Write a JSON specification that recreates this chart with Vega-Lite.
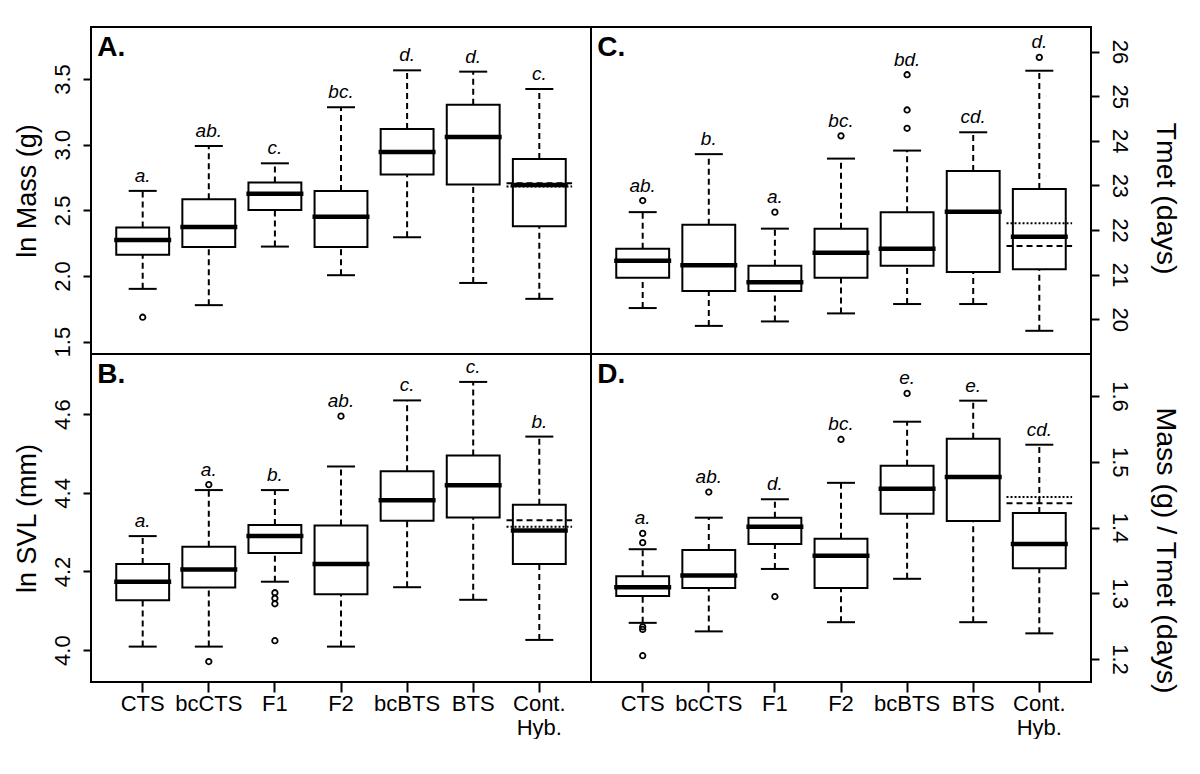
{
  "$schema": "https://vega.github.io/schema/vega-lite/v6.json",
  "background": "white",
  "padding": {"left": 11, "top": 26, "right": 12, "bottom": 0},
  "bounds": "flush",
  "columns": 2,
  "spacing": 0,
  "config": {
    "font": "Liberation Sans",
    "view": {"stroke": "black", "strokeWidth": 2},
    "axis": {"domain": false, "grid": false, "tickColor": "black", "tickWidth": 2, "tickSize": 8, "labelColor": "black", "titleColor": "black", "labelFont": "Liberation Sans", "titleFont": "Liberation Sans", "labelFontSize": 22, "titleFontSize": 27, "titleFontWeight": "normal"},
    "concat": {"spacing": 0}
  },
  "datasets": {
    "stats": [
      {"panel": "A", "group": "CTS", "lo": 1.902, "q1": 2.161, "med": 2.275, "q3": 2.369, "hi": 2.648, "top": 2.648, "letter": "a."},
      {"panel": "A", "group": "bcCTS", "lo": 1.778, "q1": 2.221, "med": 2.374, "q3": 2.584, "hi": 2.99, "top": 2.99, "letter": "ab."},
      {"panel": "A", "group": "F1", "lo": 2.224, "q1": 2.503, "med": 2.627, "q3": 2.711, "hi": 2.858, "top": 2.858, "letter": "c."},
      {"panel": "A", "group": "F2", "lo": 2.006, "q1": 2.221, "med": 2.452, "q3": 2.648, "hi": 3.285, "top": 3.285, "letter": "bc."},
      {"panel": "A", "group": "bcBTS", "lo": 2.295, "q1": 2.772, "med": 2.944, "q3": 3.119, "hi": 3.566, "top": 3.566, "letter": "d."},
      {"panel": "A", "group": "BTS", "lo": 1.947, "q1": 2.696, "med": 3.059, "q3": 3.304, "hi": 3.556, "top": 3.556, "letter": "d."},
      {"panel": "A", "group": "Cont. Hyb.", "lo": 1.826, "q1": 2.379, "med": 2.693, "q3": 2.891, "hi": 3.424, "top": 3.424, "letter": "c."},
      {"panel": "B", "group": "CTS", "lo": 4.009, "q1": 4.127, "med": 4.174, "q3": 4.219, "hi": 4.29, "top": 4.29, "letter": "a."},
      {"panel": "B", "group": "bcCTS", "lo": 4.009, "q1": 4.159, "med": 4.205, "q3": 4.263, "hi": 4.407, "top": 4.421, "letter": "a."},
      {"panel": "B", "group": "F1", "lo": 4.174, "q1": 4.247, "med": 4.29, "q3": 4.318, "hi": 4.407, "top": 4.407, "letter": "b."},
      {"panel": "B", "group": "F2", "lo": 4.009, "q1": 4.142, "med": 4.219, "q3": 4.317, "hi": 4.467, "top": 4.595, "letter": "ab."},
      {"panel": "B", "group": "bcBTS", "lo": 4.16, "q1": 4.329, "med": 4.381, "q3": 4.455, "hi": 4.635, "top": 4.635, "letter": "c."},
      {"panel": "B", "group": "BTS", "lo": 4.128, "q1": 4.337, "med": 4.419, "q3": 4.495, "hi": 4.682, "top": 4.682, "letter": "c."},
      {"panel": "B", "group": "Cont. Hyb.", "lo": 4.026, "q1": 4.219, "med": 4.304, "q3": 4.37, "hi": 4.543, "top": 4.543, "letter": "b."},
      {"panel": "C", "group": "CTS", "lo": 20.25, "q1": 20.93, "med": 21.31, "q3": 21.58, "hi": 22.4, "top": 22.66, "letter": "ab."},
      {"panel": "C", "group": "bcCTS", "lo": 19.85, "q1": 20.63, "med": 21.21, "q3": 22.12, "hi": 23.7, "top": 23.7, "letter": "b."},
      {"panel": "C", "group": "F1", "lo": 19.95, "q1": 20.63, "med": 20.83, "q3": 21.2, "hi": 22.03, "top": 22.4, "letter": "a."},
      {"panel": "C", "group": "F2", "lo": 20.13, "q1": 20.93, "med": 21.49, "q3": 22.03, "hi": 23.6, "top": 24.11, "letter": "bc."},
      {"panel": "C", "group": "bcBTS", "lo": 20.34, "q1": 21.2, "med": 21.58, "q3": 22.4, "hi": 23.78, "top": 25.48, "letter": "bd."},
      {"panel": "C", "group": "BTS", "lo": 20.34, "q1": 21.06, "med": 22.41, "q3": 23.32, "hi": 24.19, "top": 24.19, "letter": "cd."},
      {"panel": "C", "group": "Cont. Hyb.", "lo": 19.74, "q1": 21.12, "med": 21.85, "q3": 22.92, "hi": 25.57, "top": 25.87, "letter": "d."},
      {"panel": "D", "group": "CTS", "lo": 1.255, "q1": 1.296, "med": 1.309, "q3": 1.326, "hi": 1.367, "top": 1.391, "letter": "a."},
      {"panel": "D", "group": "bcCTS", "lo": 1.242, "q1": 1.308, "med": 1.327, "q3": 1.366, "hi": 1.415, "top": 1.454, "letter": "ab."},
      {"panel": "D", "group": "F1", "lo": 1.337, "q1": 1.375, "med": 1.401, "q3": 1.415, "hi": 1.443, "top": 1.443, "letter": "d."},
      {"panel": "D", "group": "F2", "lo": 1.256, "q1": 1.308, "med": 1.357, "q3": 1.383, "hi": 1.468, "top": 1.534, "letter": "bc."},
      {"panel": "D", "group": "bcBTS", "lo": 1.322, "q1": 1.421, "med": 1.459, "q3": 1.494, "hi": 1.561, "top": 1.604, "letter": "e."},
      {"panel": "D", "group": "BTS", "lo": 1.256, "q1": 1.41, "med": 1.477, "q3": 1.535, "hi": 1.593, "top": 1.593, "letter": "e."},
      {"panel": "D", "group": "Cont. Hyb.", "lo": 1.239, "q1": 1.338, "med": 1.375, "q3": 1.422, "hi": 1.526, "top": 1.526, "letter": "cd."}
    ],
    "outliers": [
      {"panel": "A", "group": "CTS", "value": 1.686},
      {"panel": "B", "group": "bcCTS", "value": 4.421},
      {"panel": "B", "group": "bcCTS", "value": 3.971},
      {"panel": "B", "group": "F1", "value": 4.146},
      {"panel": "B", "group": "F1", "value": 4.132},
      {"panel": "B", "group": "F1", "value": 4.118},
      {"panel": "B", "group": "F1", "value": 4.024},
      {"panel": "B", "group": "F2", "value": 4.595},
      {"panel": "C", "group": "CTS", "value": 22.66},
      {"panel": "C", "group": "F1", "value": 22.4},
      {"panel": "C", "group": "F2", "value": 24.11},
      {"panel": "C", "group": "bcBTS", "value": 25.48},
      {"panel": "C", "group": "bcBTS", "value": 24.69},
      {"panel": "C", "group": "bcBTS", "value": 24.28},
      {"panel": "C", "group": "Cont. Hyb.", "value": 25.87},
      {"panel": "D", "group": "CTS", "value": 1.391},
      {"panel": "D", "group": "CTS", "value": 1.377},
      {"panel": "D", "group": "CTS", "value": 1.249},
      {"panel": "D", "group": "CTS", "value": 1.245},
      {"panel": "D", "group": "CTS", "value": 1.205},
      {"panel": "D", "group": "bcCTS", "value": 1.454},
      {"panel": "D", "group": "F1", "value": 1.295},
      {"panel": "D", "group": "F2", "value": 1.534},
      {"panel": "D", "group": "bcBTS", "value": 1.604}
    ],
    "refs": [
      {"panel": "A", "group": "Cont. Hyb.", "value": 2.706, "kind": "dashed"},
      {"panel": "A", "group": "Cont. Hyb.", "value": 2.682, "kind": "dotted"},
      {"panel": "B", "group": "Cont. Hyb.", "value": 4.33, "kind": "dashed"},
      {"panel": "B", "group": "Cont. Hyb.", "value": 4.314, "kind": "dotted"},
      {"panel": "C", "group": "Cont. Hyb.", "value": 22.15, "kind": "dotted"},
      {"panel": "C", "group": "Cont. Hyb.", "value": 21.64, "kind": "dashed"},
      {"panel": "D", "group": "Cont. Hyb.", "value": 1.4465, "kind": "dotted"},
      {"panel": "D", "group": "Cont. Hyb.", "value": 1.437, "kind": "dashed"}
    ]
  },
  "concat": [
    {
      "width": 500, "height": 327,
      "encoding": {"x": {"field": "group", "type": "nominal", "sort": null, "scale": {"type": "band", "domain": ["CTS", "bcCTS", "F1", "F2", "bcBTS", "BTS", "Cont. Hyb."], "paddingInner": 0.2, "paddingOuter": 0.382}, "axis": null}},
      "layer": [
        {"data": {"name": "stats"}, "transform": [{"filter": "datum.panel == 'A'"}], "mark": {"type": "rule", "strokeDash": [6, 4], "strokeWidth": 2, "color": "black"},
         "encoding": {"y": {"field": "q3", "type": "quantitative", "scale": {"domain": [1.406, 3.896], "nice": false, "zero": false},
           "axis": {"orient": "left", "title": "ln Mass (g)", "values": [1.5, 2, 2.5, 3, 3.5], "format": ".1f", "labelAngle": -90, "labelAlign": "center", "labelBaseline": "bottom", "labelPadding": 9, "titlePadding": 10, "labelFlush": false, "labelOverlap": false}},
           "y2": {"field": "hi"}}},
        {"data": {"name": "stats"}, "transform": [{"filter": "datum.panel == 'A'"}], "mark": {"type": "rule", "strokeDash": [6, 4], "strokeWidth": 2, "color": "black"},
         "encoding": {"y": {"field": "lo", "type": "quantitative"}, "y2": {"field": "q1"}}},
        {"data": {"name": "stats"}, "transform": [{"filter": "datum.panel == 'A'"}], "mark": {"type": "tick", "size": 28, "thickness": 2, "color": "black", "opacity": 1},
         "encoding": {"y": {"field": "hi", "type": "quantitative"}}},
        {"data": {"name": "stats"}, "transform": [{"filter": "datum.panel == 'A'"}], "mark": {"type": "tick", "size": 28, "thickness": 2, "color": "black", "opacity": 1},
         "encoding": {"y": {"field": "lo", "type": "quantitative"}}},
        {"data": {"name": "stats"}, "transform": [{"filter": "datum.panel == 'A'"}], "mark": {"type": "bar", "fill": "white", "stroke": "black", "strokeWidth": 2, "opacity": 1},
         "encoding": {"y": {"field": "q1", "type": "quantitative"}, "y2": {"field": "q3"}}},
        {"data": {"name": "stats"}, "transform": [{"filter": "datum.panel == 'A'"}], "mark": {"type": "tick", "size": 57, "thickness": 4.5, "color": "black", "opacity": 1},
         "encoding": {"y": {"field": "med", "type": "quantitative"}}},
        {"data": {"name": "refs"}, "transform": [{"filter": "datum.panel == 'A'"}], "mark": {"type": "rule", "strokeWidth": 2, "color": "black"},
         "encoding": {"x": {"field": "group", "type": "nominal", "bandPosition": -0.12, "axis": null}, "x2": {"field": "group", "bandPosition": 1.12},
           "y": {"field": "value", "type": "quantitative"},
           "strokeDash": {"field": "kind", "type": "nominal", "scale": {"domain": ["dashed", "dotted"], "range": [[6, 4], [2, 2]]}, "legend": null}}},
        {"data": {"name": "outliers"}, "transform": [{"filter": "datum.panel == 'A'"}], "mark": {"type": "point", "filled": false, "stroke": "black", "strokeWidth": 1.8, "size": 30, "opacity": 1},
         "encoding": {"y": {"field": "value", "type": "quantitative"}}},
        {"data": {"name": "stats"}, "transform": [{"filter": "datum.panel == 'A'"}], "mark": {"type": "text", "fontStyle": "italic", "fontSize": 19, "baseline": "alphabetic", "dy": -9, "color": "black"},
         "encoding": {"y": {"field": "top", "type": "quantitative"}, "text": {"field": "letter"}}},
        {"data": {"values": [{}]}, "mark": {"type": "text", "text": "A.", "fontSize": 28, "fontWeight": "bold", "align": "left", "baseline": "alphabetic", "color": "black"},
         "encoding": {"x": {"datum": "CTS", "bandPosition": -0.36, "axis": null}, "y": {"datum": 3.675}}}
      ]
    },
    {
      "width": 500, "height": 327,
      "encoding": {"x": {"field": "group", "type": "nominal", "sort": null, "scale": {"type": "band", "domain": ["CTS", "bcCTS", "F1", "F2", "bcBTS", "BTS", "Cont. Hyb."], "paddingInner": 0.2, "paddingOuter": 0.382}, "axis": null}},
      "layer": [
        {"data": {"name": "stats"}, "transform": [{"filter": "datum.panel == 'C'"}], "mark": {"type": "rule", "strokeDash": [6, 4], "strokeWidth": 2, "color": "black"},
         "encoding": {"y": {"field": "q3", "type": "quantitative", "scale": {"domain": [19.22, 26.55], "nice": false, "zero": false},
           "axis": {"orient": "right", "title": "Tmet (days)", "titleFontSize": 28.5, "titleY": 171, "values": [20, 21, 22, 23, 24, 25, 26], "format": "d", "labelAngle": 90, "labelAlign": "center", "labelBaseline": "bottom", "labelPadding": 8, "titlePadding": 20, "labelFlush": false, "labelOverlap": false}},
           "y2": {"field": "hi"}}},
        {"data": {"name": "stats"}, "transform": [{"filter": "datum.panel == 'C'"}], "mark": {"type": "rule", "strokeDash": [6, 4], "strokeWidth": 2, "color": "black"},
         "encoding": {"y": {"field": "lo", "type": "quantitative"}, "y2": {"field": "q1"}}},
        {"data": {"name": "stats"}, "transform": [{"filter": "datum.panel == 'C'"}], "mark": {"type": "tick", "size": 28, "thickness": 2, "color": "black", "opacity": 1},
         "encoding": {"y": {"field": "hi", "type": "quantitative"}}},
        {"data": {"name": "stats"}, "transform": [{"filter": "datum.panel == 'C'"}], "mark": {"type": "tick", "size": 28, "thickness": 2, "color": "black", "opacity": 1},
         "encoding": {"y": {"field": "lo", "type": "quantitative"}}},
        {"data": {"name": "stats"}, "transform": [{"filter": "datum.panel == 'C'"}], "mark": {"type": "bar", "fill": "white", "stroke": "black", "strokeWidth": 2, "opacity": 1},
         "encoding": {"y": {"field": "q1", "type": "quantitative"}, "y2": {"field": "q3"}}},
        {"data": {"name": "stats"}, "transform": [{"filter": "datum.panel == 'C'"}], "mark": {"type": "tick", "size": 57, "thickness": 4.5, "color": "black", "opacity": 1},
         "encoding": {"y": {"field": "med", "type": "quantitative"}}},
        {"data": {"name": "refs"}, "transform": [{"filter": "datum.panel == 'C'"}], "mark": {"type": "rule", "strokeWidth": 2, "color": "black"},
         "encoding": {"x": {"field": "group", "type": "nominal", "bandPosition": -0.12, "axis": null}, "x2": {"field": "group", "bandPosition": 1.12},
           "y": {"field": "value", "type": "quantitative"},
           "strokeDash": {"field": "kind", "type": "nominal", "scale": {"domain": ["dashed", "dotted"], "range": [[6, 4], [2, 2]]}, "legend": null}}},
        {"data": {"name": "outliers"}, "transform": [{"filter": "datum.panel == 'C'"}], "mark": {"type": "point", "filled": false, "stroke": "black", "strokeWidth": 1.8, "size": 30, "opacity": 1},
         "encoding": {"y": {"field": "value", "type": "quantitative"}}},
        {"data": {"name": "stats"}, "transform": [{"filter": "datum.panel == 'C'"}], "mark": {"type": "text", "fontStyle": "italic", "fontSize": 19, "baseline": "alphabetic", "dy": -9, "color": "black"},
         "encoding": {"y": {"field": "top", "type": "quantitative"}, "text": {"field": "letter"}}},
        {"data": {"values": [{}]}, "mark": {"type": "text", "text": "C.", "fontSize": 28, "fontWeight": "bold", "align": "left", "baseline": "alphabetic", "color": "black"},
         "encoding": {"x": {"datum": "CTS", "bandPosition": -0.36, "axis": null}, "y": {"datum": 25.9}}}
      ]
    },
    {
      "width": 500, "height": 328,
      "encoding": {"x": {"field": "group", "type": "nominal", "sort": null, "scale": {"type": "band", "domain": ["CTS", "bcCTS", "F1", "F2", "bcBTS", "BTS", "Cont. Hyb."], "paddingInner": 0.2, "paddingOuter": 0.382},
        "axis": {"orient": "bottom", "title": null, "labelAngle": 0, "labelAlign": "center", "labelBaseline": "top", "tickSize": 10, "labelPadding": 1, "labelLineHeight": 24, "labelExpr": "datum.value == 'Cont. Hyb.' ? ['Cont.', 'Hyb.'] : datum.label"}}},
      "layer": [
        {"data": {"name": "stats"}, "transform": [{"filter": "datum.panel == 'B'"}], "mark": {"type": "rule", "strokeDash": [6, 4], "strokeWidth": 2, "color": "black"},
         "encoding": {"y": {"field": "q3", "type": "quantitative", "scale": {"domain": [3.919, 4.753], "nice": false, "zero": false},
           "axis": {"orient": "left", "title": "ln SVL (mm)", "values": [4.0, 4.2, 4.4, 4.6], "format": ".1f", "labelAngle": -90, "labelAlign": "center", "labelBaseline": "bottom", "labelPadding": 9, "titlePadding": 10, "labelFlush": false, "labelOverlap": false}},
           "y2": {"field": "hi"}}},
        {"data": {"name": "stats"}, "transform": [{"filter": "datum.panel == 'B'"}], "mark": {"type": "rule", "strokeDash": [6, 4], "strokeWidth": 2, "color": "black"},
         "encoding": {"y": {"field": "lo", "type": "quantitative"}, "y2": {"field": "q1"}}},
        {"data": {"name": "stats"}, "transform": [{"filter": "datum.panel == 'B'"}], "mark": {"type": "tick", "size": 28, "thickness": 2, "color": "black", "opacity": 1},
         "encoding": {"y": {"field": "hi", "type": "quantitative"}}},
        {"data": {"name": "stats"}, "transform": [{"filter": "datum.panel == 'B'"}], "mark": {"type": "tick", "size": 28, "thickness": 2, "color": "black", "opacity": 1},
         "encoding": {"y": {"field": "lo", "type": "quantitative"}}},
        {"data": {"name": "stats"}, "transform": [{"filter": "datum.panel == 'B'"}], "mark": {"type": "bar", "fill": "white", "stroke": "black", "strokeWidth": 2, "opacity": 1},
         "encoding": {"y": {"field": "q1", "type": "quantitative"}, "y2": {"field": "q3"}}},
        {"data": {"name": "stats"}, "transform": [{"filter": "datum.panel == 'B'"}], "mark": {"type": "tick", "size": 57, "thickness": 4.5, "color": "black", "opacity": 1},
         "encoding": {"y": {"field": "med", "type": "quantitative"}}},
        {"data": {"name": "refs"}, "transform": [{"filter": "datum.panel == 'B'"}], "mark": {"type": "rule", "strokeWidth": 2, "color": "black"},
         "encoding": {"x": {"field": "group", "type": "nominal", "bandPosition": -0.12}, "x2": {"field": "group", "bandPosition": 1.12},
           "y": {"field": "value", "type": "quantitative"},
           "strokeDash": {"field": "kind", "type": "nominal", "scale": {"domain": ["dashed", "dotted"], "range": [[6, 4], [2, 2]]}, "legend": null}}},
        {"data": {"name": "outliers"}, "transform": [{"filter": "datum.panel == 'B'"}], "mark": {"type": "point", "filled": false, "stroke": "black", "strokeWidth": 1.8, "size": 30, "opacity": 1},
         "encoding": {"y": {"field": "value", "type": "quantitative"}}},
        {"data": {"name": "stats"}, "transform": [{"filter": "datum.panel == 'B'"}], "mark": {"type": "text", "fontStyle": "italic", "fontSize": 19, "baseline": "alphabetic", "dy": -9, "color": "black"},
         "encoding": {"y": {"field": "top", "type": "quantitative"}, "text": {"field": "letter"}}},
        {"data": {"values": [{}]}, "mark": {"type": "text", "text": "B.", "fontSize": 28, "fontWeight": "bold", "align": "left", "baseline": "alphabetic", "color": "black"},
         "encoding": {"x": {"datum": "CTS", "bandPosition": -0.36}, "y": {"datum": 4.679}}}
      ]
    },
    {
      "width": 500, "height": 328,
      "encoding": {"x": {"field": "group", "type": "nominal", "sort": null, "scale": {"type": "band", "domain": ["CTS", "bcCTS", "F1", "F2", "bcBTS", "BTS", "Cont. Hyb."], "paddingInner": 0.2, "paddingOuter": 0.382},
        "axis": {"orient": "bottom", "title": null, "labelAngle": 0, "labelAlign": "center", "labelBaseline": "top", "tickSize": 10, "labelPadding": 1, "labelLineHeight": 24, "labelExpr": "datum.value == 'Cont. Hyb.' ? ['Cont.', 'Hyb.'] : datum.label"}}},
      "layer": [
        {"data": {"name": "stats"}, "transform": [{"filter": "datum.panel == 'D'"}], "mark": {"type": "rule", "strokeDash": [6, 4], "strokeWidth": 2, "color": "black"},
         "encoding": {"y": {"field": "q3", "type": "quantitative", "scale": {"domain": [1.165, 1.664], "nice": false, "zero": false},
           "axis": {"orient": "right", "title": "Mass (g) / Tmet (days)", "titleFontSize": 28.5, "titleY": 196, "values": [1.2, 1.3, 1.4, 1.5, 1.6], "format": ".1f", "labelAngle": 90, "labelAlign": "center", "labelBaseline": "bottom", "labelPadding": 8, "titlePadding": 20, "labelFlush": false, "labelOverlap": false}},
           "y2": {"field": "hi"}}},
        {"data": {"name": "stats"}, "transform": [{"filter": "datum.panel == 'D'"}], "mark": {"type": "rule", "strokeDash": [6, 4], "strokeWidth": 2, "color": "black"},
         "encoding": {"y": {"field": "lo", "type": "quantitative"}, "y2": {"field": "q1"}}},
        {"data": {"name": "stats"}, "transform": [{"filter": "datum.panel == 'D'"}], "mark": {"type": "tick", "size": 28, "thickness": 2, "color": "black", "opacity": 1},
         "encoding": {"y": {"field": "hi", "type": "quantitative"}}},
        {"data": {"name": "stats"}, "transform": [{"filter": "datum.panel == 'D'"}], "mark": {"type": "tick", "size": 28, "thickness": 2, "color": "black", "opacity": 1},
         "encoding": {"y": {"field": "lo", "type": "quantitative"}}},
        {"data": {"name": "stats"}, "transform": [{"filter": "datum.panel == 'D'"}], "mark": {"type": "bar", "fill": "white", "stroke": "black", "strokeWidth": 2, "opacity": 1},
         "encoding": {"y": {"field": "q1", "type": "quantitative"}, "y2": {"field": "q3"}}},
        {"data": {"name": "stats"}, "transform": [{"filter": "datum.panel == 'D'"}], "mark": {"type": "tick", "size": 57, "thickness": 4.5, "color": "black", "opacity": 1},
         "encoding": {"y": {"field": "med", "type": "quantitative"}}},
        {"data": {"name": "refs"}, "transform": [{"filter": "datum.panel == 'D'"}], "mark": {"type": "rule", "strokeWidth": 2, "color": "black"},
         "encoding": {"x": {"field": "group", "type": "nominal", "bandPosition": -0.12}, "x2": {"field": "group", "bandPosition": 1.12},
           "y": {"field": "value", "type": "quantitative"},
           "strokeDash": {"field": "kind", "type": "nominal", "scale": {"domain": ["dashed", "dotted"], "range": [[6, 4], [2, 2]]}, "legend": null}}},
        {"data": {"name": "outliers"}, "transform": [{"filter": "datum.panel == 'D'"}], "mark": {"type": "point", "filled": false, "stroke": "black", "strokeWidth": 1.8, "size": 30, "opacity": 1},
         "encoding": {"y": {"field": "value", "type": "quantitative"}}},
        {"data": {"name": "stats"}, "transform": [{"filter": "datum.panel == 'D'"}], "mark": {"type": "text", "fontStyle": "italic", "fontSize": 19, "baseline": "alphabetic", "dy": -9, "color": "black"},
         "encoding": {"y": {"field": "top", "type": "quantitative"}, "text": {"field": "letter"}}},
        {"data": {"values": [{}]}, "mark": {"type": "text", "text": "D.", "fontSize": 28, "fontWeight": "bold", "align": "left", "baseline": "alphabetic", "color": "black"},
         "encoding": {"x": {"datum": "CTS", "bandPosition": -0.36}, "y": {"datum": 1.62}}}
      ]
    }
  ]
}
